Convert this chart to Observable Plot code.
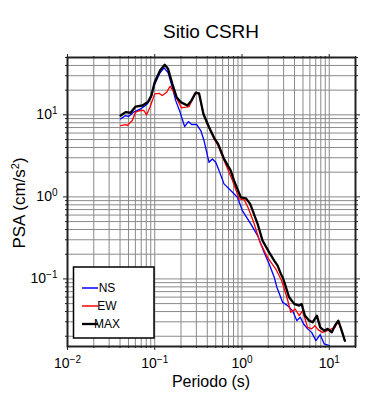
<!DOCTYPE html>
<html>
<head>
<meta charset="utf-8">
<script src="https://cdn.jsdelivr.net/npm/d3@7"></script>
<script src="https://cdn.jsdelivr.net/npm/@observablehq/plot@0.6"></script>
<style>
  html, body { margin: 0; padding: 0; background: #fff; }
  #chart { width: 390px; height: 400px; }
</style>
</head>
<body>
<div id="chart"></div>
<script>
// ---- data ----
const title = "Sitio CSRH";
const xLabel = "Periodo (s)";
const seriesNames = ["NS", "EW", "MAX"];
const seriesColors = ["#0000ff", "#ff0000", "#000000"];

const nsPeriod = [0.0406,0.0464,0.0501,0.0573,0.0689,0.0822,0.0914,0.0998,0.115,0.128,0.142,0.159,0.174,0.195,0.220,0.243,0.265,0.303,0.337,0.367,0.419,0.458,0.500,0.546,0.622,0.652,0.778,0.887,1.01,1.26,1.51,1.79,2.05,2.34,2.51,2.92,3.33,3.80,4.26,4.65,5.09,5.65,6.28,7.04,7.88,8.77,10.0];
const nsPSA    = [8.93,9.80,9.53,10.8,11.8,13.6,16.5,23.5,32.5,37.4,32.8,21.7,14.9,10.8,7.20,8.28,7.62,7.62,6.44,4.86,2.64,2.90,2.64,2.09,1.44,1.37,1.14,0.989,0.681,0.469,0.337,0.211,0.152,0.105,0.0791,0.0519,0.0472,0.0410,0.0310,0.0341,0.0282,0.0246,0.0223,0.0177,0.0209,0.0161,0.0154];

const ewPeriod = [0.0406,0.0464,0.0484,0.0553,0.0604,0.0689,0.0751,0.0807,0.0881,0.0998,0.112,0.122,0.137,0.150,0.166,0.184,0.202,0.227,0.247,0.263,0.295,0.322,0.361,0.419,0.479,0.532,0.622,0.778,0.927,1.06,1.17,1.38,1.61,1.96,2.44,2.85,3.27,3.63,4.07,4.53,4.95,5.65,6.28,6.85,7.48,8.40,9.59,11.6,12.7,13.9,15.1];
const ewPSA    = [7.41,7.62,7.41,8.52,10.8,11.3,11.3,10.0,12.4,18.0,18.3,17.2,18.9,22.3,18.9,14.9,12.2,12.4,12.6,14.5,18.3,18.0,10.0,6.9,5.1,4.2,2.80,1.58,0.946,0.919,0.746,0.469,0.279,0.183,0.132,0.095,0.0597,0.0392,0.0430,0.0357,0.0410,0.0257,0.0246,0.0269,0.0239,0.0223,0.0234,0.0257,0.0304,0.0229,0.0174];

const maxPeriod = [0.0406,0.0464,0.0528,0.0604,0.0722,0.0836,0.0914,0.0998,0.115,0.130,0.142,0.159,0.178,0.198,0.237,0.263,0.295,0.322,0.361,0.419,0.479,0.532,0.622,0.743,0.811,0.968,1.106,1.24,1.51,1.72,2.05,2.34,2.56,2.79,2.92,3.10,3.47,3.97,4.53,4.82,5.26,5.89,6.45,7.22,7.88,8.77,9.59,10.7,11.6,12.7,13.9,15.1];
const maxPSA    = [9.8,10.8,10.6,12.6,13.0,14.3,17.2,25.0,34.7,40.7,36.4,23.9,16.4,14.3,13.0,14.9,18.7,18.3,10.3,7.07,5.24,4.43,2.90,2.09,1.58,0.989,0.962,0.822,0.469,0.293,0.211,0.167,0.145,0.115,0.105,0.0869,0.0597,0.0496,0.0472,0.0496,0.0357,0.0310,0.0296,0.0357,0.0257,0.0234,0.0246,0.0223,0.0269,0.0310,0.0234,0.0177];

// tick values
const xMajor = [0.01, 0.1, 1, 10];
const yMajor = [0.1, 1, 10];
const xDomain = [0.01, 20];
const yDomain = [0.015, 50];

function minorTicks(domain) {
  const out = [];
  for (let k = -3; k <= 2; k++) {
    for (let m = 2; m <= 9; m++) {
      const v = +(m * Math.pow(10, k)).toPrecision(3);
      if (v >= domain[0] - 1e-9 && v <= domain[1] + 1e-9) out.push(v);
    }
  }
  return out;
}
const xMinor = minorTicks(xDomain);
const yMinor = minorTicks(yDomain);
const xAll = xMajor.concat(xMinor);
const yAll = yMajor.concat(yMinor);

const toRows = (P, V) => P.map((p, i) => ({T: p, v: V[i]}));
const ns = toRows(nsPeriod, nsPSA);
const ew = toRows(ewPeriod, ewPSA);
const mx = toRows(maxPeriod, maxPSA);

const FONT = "'Liberation Sans', Arial, Helvetica, sans-serif";
const supFmt = d => "10|" + Math.round(Math.log10(d));
const gridStyle = {stroke: "#8a8a8a", strokeOpacity: 1, strokeWidth: 1};
const axisInk = "#222";

const chart = Plot.plot({
  width: 390,
  height: 400,
  marginLeft: 67,
  marginRight: 35,
  marginTop: 57,
  marginBottom: 54,
  style: {fontFamily: FONT, background: "#fff", color: "#000"},
  x: {type: "log", domain: xDomain},
  y: {type: "log", domain: yDomain},
  marks: [
    Plot.gridX(xAll, gridStyle),
    Plot.gridY(yAll, gridStyle),
    Plot.line(ns, {x: "T", y: "v", stroke: seriesColors[0], strokeWidth: 1.3}),
    Plot.line(ew, {x: "T", y: "v", stroke: seriesColors[1], strokeWidth: 1.3}),
    Plot.line(mx, {x: "T", y: "v", stroke: seriesColors[2], strokeWidth: 2.3}),
    Plot.frame({stroke: axisInk, strokeWidth: 2}),
    // bottom
    Plot.axisX(xMajor, {anchor: "bottom", tickSize: 4, tickPadding: 8, fontSize: 14, tickFormat: supFmt, stroke: axisInk, fill: "#000", label: null}),
    Plot.axisX(xMinor, {anchor: "bottom", tickSize: 2, tickFormat: () => "", stroke: axisInk, fill: "none", label: null}),
    // top
    Plot.axisX(xMajor, {anchor: "top", tickSize: 4, tickFormat: () => "", stroke: axisInk, fill: "none", label: null}),
    Plot.axisX(xMinor, {anchor: "top", tickSize: 2, tickFormat: () => "", stroke: axisInk, fill: "none", label: null}),
    // left
    Plot.axisY(yMajor, {anchor: "left", tickSize: 4, tickPadding: 6, fontSize: 14, tickFormat: supFmt, stroke: axisInk, fill: "#000", label: null}),
    Plot.axisY(yMinor, {anchor: "left", tickSize: 2, tickFormat: () => "", stroke: axisInk, fill: "none", label: null}),
    // right
    Plot.axisY(yMajor, {anchor: "right", tickSize: 4, tickFormat: () => "", stroke: axisInk, fill: "none", label: null}),
    Plot.axisY(yMinor, {anchor: "right", tickSize: 2, tickFormat: () => "", stroke: axisInk, fill: "none", label: null})
  ]
});

document.getElementById("chart").appendChild(chart);
const svg = d3.select(chart);

// superscript tick labels: "10|e" -> 10 with raised exponent
svg.selectAll("text").each(function () {
  const t = this.textContent;
  if (!t || t.indexOf("|") < 0) return;
  const [base, e] = t.split("|");
  const s = d3.select(this);
  s.text(null);
  s.append("tspan").text(base);
  s.append("tspan").attr("dy", -5).attr("font-size", 10).text(e.replace("-", "\u2212"));
});

// title
svg.append("text")
  .attr("x", 211).attr("y", 38)
  .attr("text-anchor", "middle")
  .attr("font-family", FONT).attr("font-size", 19)
  .attr("fill", "#000")
  .text(title);

// x label
svg.append("text")
  .attr("x", 211).attr("y", 387)
  .attr("text-anchor", "middle")
  .attr("font-family", FONT).attr("font-size", 16)
  .attr("fill", "#000")
  .text(xLabel);

// y label: PSA (cm/s^2)
const yl = svg.append("text")
  .attr("transform", "translate(25,203) rotate(-90)")
  .attr("text-anchor", "middle")
  .attr("font-family", FONT).attr("font-size", 17)
  .attr("fill", "#000");
yl.append("tspan").text("PSA (cm/s");
yl.append("tspan").attr("dy", -6).attr("font-size", 11).text("2");
yl.append("tspan").attr("dy", 6).text(")");

// legend
const lg = svg.append("g").attr("font-family", FONT).attr("font-size", 12);
lg.append("rect")
  .attr("x", 73.5).attr("y", 267).attr("width", 80.5).attr("height", 71)
  .attr("fill", "#fff").attr("stroke", "#000").attr("stroke-width", 1.5);
const rowsY = [288, 306, 324];
const lw = [1.5, 1.5, 2.3];
seriesNames.forEach((name, i) => {
  lg.append("line")
    .attr("x1", 82).attr("x2", 98).attr("y1", rowsY[i]).attr("y2", rowsY[i])
    .attr("stroke", seriesColors[i]).attr("stroke-width", lw[i]);
  lg.append("text")
    .attr("x", 107).attr("y", rowsY[i] + 4.3)
    .attr("fill", "#000")
    .text(name);
});
</script>
</body>
</html>
